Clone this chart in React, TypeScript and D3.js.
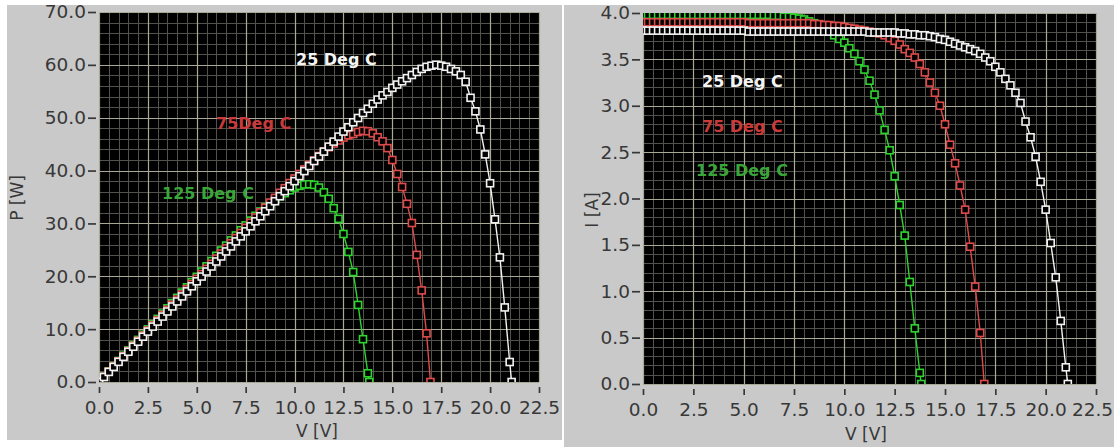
import React, { useRef, useEffect } from 'react';
import * as d3 from 'd3';

// voltage sweep per temperature (V)
const volt25 = [0, 0.25, 0.5, 0.75, 1, 1.25, 1.5, 1.75, 2, 2.25, 2.5, 2.75, 3, 3.25, 3.5, 3.75, 4, 4.25, 4.5, 4.75, 5,
  5.25, 5.5, 5.75, 6, 6.25, 6.5, 6.75, 7, 7.25, 7.5, 7.75, 8, 8.25, 8.5, 8.75, 9, 9.25, 9.5, 9.75, 10, 10.25, 10.5, 10.75, 11,
  11.25, 11.5, 11.75, 12, 12.25, 12.5, 12.75, 13, 13.25, 13.5, 13.75, 14, 14.25, 14.5, 14.75, 15, 15.25, 15.5, 15.75, 16,
  16.25, 16.5, 16.75, 17, 17.25, 17.5, 17.75, 18, 18.25, 18.5, 18.75, 19, 19.25, 19.5, 19.75, 20, 20.25, 20.5, 20.75, 21, 21.1];
const amps25 = [3.81, 3.81, 3.81, 3.81, 3.81, 3.81, 3.81, 3.81, 3.81, 3.81, 3.81, 3.81, 3.81, 3.81, 3.81, 3.81, 3.81, 3.81, 3.81, 3.81, 3.81,
  3.8, 3.8, 3.8, 3.8, 3.8, 3.8, 3.8, 3.8, 3.8, 3.8, 3.8, 3.8, 3.8, 3.8, 3.8, 3.8, 3.8, 3.8, 3.8, 3.8, 3.8, 3.8, 3.8, 3.8,
  3.79, 3.79, 3.79, 3.79, 3.79, 3.79, 3.78, 3.78, 3.77, 3.77, 3.76, 3.76, 3.75, 3.74, 3.72, 3.71, 3.69, 3.67, 3.65, 3.63,
  3.61, 3.59, 3.56, 3.52, 3.48, 3.42, 3.36, 3.29, 3.22, 3.14, 3.03, 2.83, 2.66, 2.45, 2.18, 1.88, 1.52, 1.15, 0.68, 0.18, 0];
const watts25 = [0, 0.95, 1.91, 2.86, 3.81, 4.76, 5.72, 6.67, 7.62, 8.57, 9.53, 10.48, 11.43, 12.38, 13.34, 14.29, 15.24, 16.19, 17.15, 18.1, 19.05,
  19.95, 20.9, 21.85, 22.8, 23.75, 24.7, 25.65, 26.6, 27.55, 28.5, 29.45, 30.4, 31.35, 32.3, 33.25, 34.2, 35.15, 36.1, 37.05, 38, 38.95, 39.9, 40.85, 41.8,
  42.64, 43.59, 44.53, 45.48, 46.43, 47.38, 48.2, 49.14, 49.95, 50.9, 51.7, 52.64, 53.44, 54.23, 54.87, 55.65, 56.27, 56.89, 57.49, 58.08,
  58.66, 59.24, 59.63, 59.84, 60.03, 59.85, 59.64, 59.22, 58.77, 58.09, 56.81, 53.77, 51.21, 47.78, 43.06, 37.6, 30.78, 23.58, 14.11, 3.78, 0];

const volt75 = [0, 0.25, 0.5, 0.75, 1, 1.25, 1.5, 1.75, 2, 2.25, 2.5, 2.75, 3, 3.25, 3.5, 3.75, 4, 4.25, 4.5, 4.75, 5,
  5.25, 5.5, 5.75, 6, 6.25, 6.5, 6.75, 7, 7.25, 7.5, 7.75, 8, 8.25, 8.5, 8.75, 9, 9.25, 9.5, 9.75, 10, 10.25, 10.5, 10.75, 11,
  11.25, 11.5, 11.75, 12, 12.25, 12.5, 12.75, 13, 13.25, 13.5, 13.75, 14, 14.25, 14.5, 14.75, 15, 15.25, 15.5, 15.75, 16,
  16.25, 16.5, 16.75, 16.95];
const amps75 = [3.9, 3.9, 3.9, 3.9, 3.9, 3.9, 3.9, 3.9, 3.9, 3.9, 3.9, 3.9, 3.9, 3.9, 3.9, 3.9, 3.9, 3.9, 3.9, 3.9, 3.9,
  3.89, 3.89, 3.89, 3.89, 3.89, 3.89, 3.89, 3.89, 3.89, 3.89, 3.89, 3.89, 3.89,
  3.88, 3.88, 3.87, 3.87, 3.86, 3.86, 3.85, 3.84, 3.83, 3.82, 3.81, 3.8, 3.79, 3.78, 3.76, 3.73, 3.7, 3.66, 3.61,
  3.57, 3.52, 3.45, 3.36, 3.25, 3.14, 3.0, 2.8, 2.58, 2.38, 2.14, 1.88, 1.48, 1.05, 0.55, 0];
const watts75 = [0, 0.98, 1.95, 2.93, 3.9, 4.88, 5.85, 6.83, 7.8, 8.78, 9.75, 10.73, 11.7, 12.68, 13.65, 14.63, 15.6, 16.58, 17.55, 18.53, 19.5,
  20.42, 21.4, 22.37, 23.34, 24.31, 25.29, 26.26, 27.23, 28.2, 29.18, 30.15, 31.12, 32.09,
  32.98, 33.95, 34.83, 35.8, 36.67, 37.64, 38.5, 39.36, 40.22, 41.07, 41.91, 42.75, 43.59, 44.42, 45.12, 45.69, 46.25, 46.67, 46.93,
  47.3, 47.52, 47.44, 47.04, 46.31, 45.53, 44.25, 42.0, 39.35, 36.89, 33.71, 30.08, 24.05, 17.33, 9.21, 0];

const volt125 = [0, 0.25, 0.5, 0.75, 1, 1.25, 1.5, 1.75, 2, 2.25, 2.5, 2.75, 3, 3.25, 3.5, 3.75, 4, 4.25, 4.5, 4.75, 5,
  5.25, 5.5, 5.75, 6, 6.25, 6.5, 6.75, 7, 7.25, 7.5, 7.75, 8, 8.25, 8.5, 8.75, 9, 9.25, 9.5, 9.75, 10, 10.25, 10.5, 10.75, 11,
  11.25, 11.5, 11.75, 12, 12.25, 12.5, 12.75, 13, 13.25, 13.5, 13.75, 13.82];
const amps125 = [3.98, 3.98, 3.98, 3.98, 3.98, 3.98, 3.98, 3.98, 3.98, 3.98, 3.98, 3.98, 3.98, 3.98, 3.98, 3.98, 3.98, 3.98, 3.98, 3.98, 3.98,
  3.98, 3.98, 3.98, 3.98, 3.98, 3.97, 3.97, 3.96, 3.96, 3.95, 3.94, 3.93, 3.91, 3.89, 3.86, 3.83, 3.8, 3.76, 3.72, 3.68,
  3.62, 3.56, 3.48, 3.39, 3.27, 3.12, 2.95, 2.74, 2.52, 2.24, 1.93, 1.6, 1.1, 0.6, 0.12, 0];
const watts125 = [0, 1.0, 1.99, 2.99, 3.98, 4.98, 5.97, 6.97, 7.96, 8.96, 9.95, 10.95, 11.94, 12.94, 13.93, 14.93, 15.92, 16.92, 17.91, 18.91, 19.9,
  20.9, 21.89, 22.89, 23.88, 24.88, 25.81, 26.8, 27.72, 28.71, 29.63, 30.54, 31.44, 32.26, 33.07, 33.78, 34.47, 35.15, 35.72, 36.27, 36.8,
  37.11, 37.38, 37.41, 37.29, 36.79, 35.88, 34.66, 32.88, 30.87, 28.0, 24.61, 20.8, 14.58, 8.1, 1.65, 0];

const voltTicks = [0, 2.5, 5, 7.5, 10, 12.5, 15, 17.5, 20, 22.5];
const powerTicks = [0, 10, 20, 30, 40, 50, 60, 70];
const currentTicks = [0, 0.5, 1, 1.5, 2, 2.5, 3, 3.5, 4];

const labelsPV = ['25 Deg C', '75Deg C', '125 Deg C'];
const labelsIV = ['25 Deg C', '75 Deg C', '125 Deg C'];

const curveColors = ['#f2f2f2', '#de4b4b', '#2fd42f'];
const labelColors = ['#f4f4f4', '#c93a3a', '#3aa63a'];

const FONT = 'DejaVu Sans, Verdana, sans-serif';

const App = () => {
  const svgRef = useRef(null);

  useEffect(() => {
    const svg = d3.select(svgRef.current);
    svg.selectAll('*').remove();

    svg.append('rect').attr('width', 1114).attr('height', 447).attr('fill', '#ffffff');

    const curves = [
      { v: volt25, i: amps25, p: watts25 },
      { v: volt75, i: amps75, p: watts75 },
      { v: volt125, i: amps125, p: watts125 },
    ];

    const drawPanel = (cfg) => {
      const { id, panel, box, yMax, yTicks, yKey, labels, labelPos, yTitle, yTitlePos, xTitlePos, lastDx } = cfg;

      svg.append('rect')
        .attr('x', panel[0]).attr('y', panel[1]).attr('width', panel[2]).attr('height', panel[3])
        .attr('fill', '#c9c9c9');

      const x = d3.scaleLinear().domain([0, 22.5]).range([box.x0, box.x1]);
      const y = d3.scaleLinear().domain([0, yMax]).range([box.y1, box.y0]);

      svg.append('rect')
        .attr('x', box.x0).attr('y', box.y0)
        .attr('width', box.x1 - box.x0).attr('height', box.y1 - box.y0)
        .attr('fill', '#000');

      const grid = svg.append('g');
      // minor grid
      grid.selectAll('.mx').data(x.ticks(45)).enter().append('line')
        .attr('x1', d => Math.round(x(d)) + 0.5).attr('x2', d => Math.round(x(d)) + 0.5)
        .attr('y1', box.y0).attr('y2', box.y1)
        .attr('stroke', '#52524c').attr('stroke-width', 1);
      grid.selectAll('.my').data(y.ticks(yTicks.length * 5 - 5)).enter().append('line')
        .attr('y1', d => Math.round(y(d)) + 0.5).attr('y2', d => Math.round(y(d)) + 0.5)
        .attr('x1', box.x0).attr('x2', box.x1)
        .attr('stroke', '#52524c').attr('stroke-width', 1);
      // major grid
      grid.selectAll('.Mx').data(voltTicks).enter().append('line')
        .attr('x1', d => Math.round(x(d)) + 0.5).attr('x2', d => Math.round(x(d)) + 0.5)
        .attr('y1', box.y0).attr('y2', box.y1)
        .attr('stroke', '#aaa996').attr('stroke-width', 1.2);
      grid.selectAll('.My').data(yTicks).enter().append('line')
        .attr('y1', d => Math.round(y(d)) + 0.5).attr('y2', d => Math.round(y(d)) + 0.5)
        .attr('x1', box.x0).attr('x2', box.x1)
        .attr('stroke', '#aaa996').attr('stroke-width', 1.2);

      // axes
      const styleAxis = (g) => {
        g.select('.domain').remove();
        g.attr('font-family', FONT).attr('font-size', 18.5);
        g.selectAll('text').attr('fill', '#383838');
        g.selectAll('line').attr('stroke', '#383838').attr('stroke-width', 1.7);
      };
      svg.append('g')
        .attr('transform', `translate(${box.x0 - 3},0)`)
        .call(d3.axisLeft(y).tickValues(yTicks).tickFormat(d3.format('.1f')).tickSize(8).tickPadding(2).tickSizeOuter(0))
        .call(styleAxis);
      const xa = svg.append('g')
        .attr('transform', `translate(0,${box.y1 + 5})`)
        .call(d3.axisBottom(x).tickValues(voltTicks).tickFormat(d3.format('.1f')).tickSize(6).tickPadding(8).tickSizeOuter(0))
        .call(styleAxis);
      xa.selectAll('text').filter(d => d === 22.5).attr('dx', lastDx);

      svg.append('text')
        .attr('transform', `translate(${yTitlePos[0]},${yTitlePos[1]}) rotate(-90)`)
        .attr('text-anchor', 'middle').attr('dominant-baseline', 'central')
        .attr('font-family', FONT).attr('font-size', 17).attr('fill', '#383838')
        .text(yTitle);
      svg.append('text')
        .attr('x', xTitlePos[0]).attr('y', xTitlePos[1])
        .attr('text-anchor', 'middle').attr('dominant-baseline', 'central')
        .attr('font-family', FONT).attr('font-size', 17).attr('fill', '#383838')
        .text('V [V]');

      // curves
      svg.append('clipPath').attr('id', id)
        .append('rect')
        .attr('x', box.x0).attr('y', box.y0)
        .attr('width', box.x1 - box.x0).attr('height', box.y1 - box.y0);
      const plot = svg.append('g').attr('clip-path', `url(#${id})`);

      const line = d3.line().x(d => x(d[0])).y(d => y(d[1]));
      [2, 1, 0].forEach(k => {
        const c = curves[k];
        const pts = c.v.map((v, j) => [v, c[yKey][j]]);
        const g = plot.append('g');
        g.append('path').attr('d', line(pts))
          .attr('fill', 'none').attr('stroke', curveColors[k]).attr('stroke-width', 1.4);
        g.selectAll('rect').data(pts).enter().append('rect')
          .attr('x', d => x(d[0]) - 3.5).attr('y', d => y(d[1]) - 3.5)
          .attr('width', 7).attr('height', 7)
          .attr('fill', '#000').attr('stroke', curveColors[k]).attr('stroke-width', 1.6);
      });

      labels.forEach((t, k) => {
        svg.append('text')
          .attr('x', labelPos[k][0]).attr('y', labelPos[k][1])
          .attr('dominant-baseline', 'central')
          .attr('font-family', FONT).attr('font-weight', 'bold').attr('font-size', 16)
          .attr('fill', labelColors[k])
          .text(t);
      });
    };

    drawPanel({
      id: 'clipPV',
      panel: [7, 5, 555, 435],
      box: { x0: 99, x1: 539, y0: 12, y1: 382 },
      yMax: 70, yTicks: powerTicks, yKey: 'p',
      labels: labelsPV,
      labelPos: [[296, 59], [216, 123], [162, 193]],
      yTitle: 'P [W]', yTitlePos: [17, 198], xTitlePos: [317, 431],
      lastDx: 0,
    });
    drawPanel({
      id: 'clipIV',
      panel: [564, 5, 550, 442],
      box: { x0: 643, x1: 1096, y0: 13, y1: 384 },
      yMax: 4, yTicks: currentTicks, yKey: 'i',
      labels: labelsIV,
      labelPos: [[702, 81], [702, 126], [696, 170]],
      yTitle: 'I [A]', yTitlePos: [592, 210], xTitlePos: [866, 434],
      lastDx: -4,
    });
  }, []);

  return <svg ref={svgRef} width={1114} height={447} style={{ position: 'absolute', left: 0, top: 0 }} />;
};

export default App;
